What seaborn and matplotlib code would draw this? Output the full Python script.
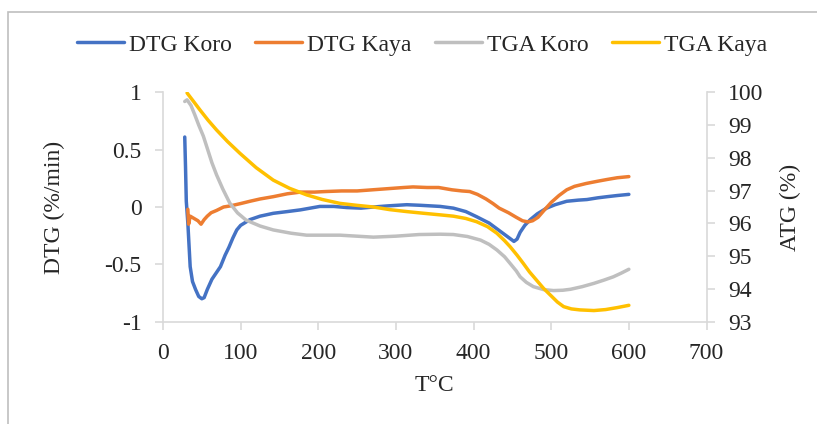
import matplotlib
matplotlib.use("Agg")
import matplotlib.pyplot as plt
import seaborn as sns
import pandas as pd
from matplotlib.patches import Rectangle

# ---------------- data ----------------
dtg_koro_T = [28, 29, 30, 32, 35, 38, 42, 46, 50, 53, 57, 63, 68, 74, 80, 85, 90, 95, 100,
              112, 125, 142, 160, 177, 202, 220, 237, 255, 271, 290, 314, 331, 357, 374,
              390, 404, 420, 430, 442, 452, 456, 460, 466, 473, 482, 494, 505, 520, 535,
              546, 560, 572, 585, 600]
dtg_koro = [0.61, 0.35, 0.05, -0.14, -0.52, -0.65, -0.72, -0.78, -0.80, -0.79, -0.72, -0.63,
            -0.58, -0.52, -0.42, -0.35, -0.27, -0.20, -0.16, -0.11, -0.08, -0.055, -0.04,
            -0.025, 0.005, 0.005, -0.005, -0.01, 0.0, 0.01, 0.02, 0.015, 0.005, -0.01,
            -0.04, -0.085, -0.14, -0.19, -0.25, -0.30, -0.28, -0.22, -0.16, -0.11, -0.06,
            -0.01, 0.02, 0.05, 0.06, 0.065, 0.08, 0.09, 0.10, 0.11]

dtg_kaya_T = [32, 33, 35, 40, 45, 49, 53, 57, 62, 69, 78, 87, 100, 112, 125, 142, 160, 177,
              195, 210, 230, 250, 270, 290, 310, 322, 340, 355, 372, 385, 395, 405, 416,
              425, 433, 445, 455, 463, 470, 476, 483, 492, 500, 510, 520, 530, 545, 560,
              572, 585, 600]
dtg_kaya = [-0.02, -0.15, -0.08, -0.10, -0.12, -0.15, -0.11, -0.08, -0.05, -0.03, 0.0, 0.01,
            0.03, 0.05, 0.07, 0.09, 0.115, 0.13, 0.13, 0.135, 0.14, 0.14, 0.15, 0.16, 0.17,
            0.175, 0.17, 0.17, 0.15, 0.14, 0.135, 0.11, 0.07, 0.03, -0.01, -0.05, -0.09,
            -0.12, -0.13, -0.12, -0.09, -0.02, 0.04, 0.10, 0.15, 0.18, 0.205, 0.225, 0.24,
            0.255, 0.265]

tga_koro_T = [28, 31, 36, 41, 46, 52, 58, 63, 69, 77, 86, 96, 107, 125, 142, 165, 185, 228,
              271, 300, 330, 357, 374, 392, 409, 420, 430, 440, 447, 455, 460, 468, 477,
              490, 503, 515, 525, 540, 555, 568, 580, 590, 600]
tga_koro = [99.72, 99.77, 99.60, 99.31, 99.00, 98.66, 98.22, 97.85, 97.48, 97.05, 96.62,
            96.32, 96.10, 95.92, 95.80, 95.70, 95.64, 95.64, 95.58, 95.61, 95.66, 95.67,
            95.66, 95.60, 95.49, 95.36, 95.19, 94.98, 94.78, 94.55, 94.37, 94.20, 94.07,
            93.98, 93.95, 93.96, 93.99, 94.07, 94.17, 94.27, 94.37, 94.48, 94.60]

tga_kaya_T = [31, 40, 48, 58, 69, 83, 99, 120, 142, 163, 185, 205, 228, 250, 271, 292, 314,
              335, 357, 374, 390, 404, 418, 430, 440, 447, 456, 464, 472, 481, 490, 499,
              508, 516, 526, 537, 555, 570, 585, 600]
tga_kaya = [99.98, 99.70, 99.45, 99.15, 98.85, 98.50, 98.14, 97.70, 97.32, 97.07, 96.87,
            96.73, 96.61, 96.55, 96.50, 96.42, 96.36, 96.31, 96.26, 96.22, 96.15, 96.05,
            95.90, 95.70, 95.47, 95.29, 95.03, 94.78, 94.52, 94.27, 94.02, 93.81, 93.60,
            93.46, 93.39, 93.36, 93.34, 93.37, 93.43, 93.50]

x_ticks = [0, 100, 200, 300, 400, 500, 600, 700]
left_ticks = [-1, -0.5, 0, 0.5, 1]
left_tick_labels = ["-1", "-0.5", "0", "0.5", "1"]
right_ticks = [93, 94, 95, 96, 97, 98, 99, 100]

labels = ["DTG Koro", "DTG Kaya", "TGA Koro", "TGA Kaya"]
colors = ["#4472C4", "#ED7D31", "#BFBFBF", "#FFC000"]

# ---------------- style ----------------
sns.set_theme(style="white")
plt.rcParams["font.family"] = ["Liberation Serif", "DejaVu Serif"]
FS = 17
GRID = "#D9D9D9"

fig = plt.figure(figsize=(8.17, 4.24), dpi=100)
ax = fig.add_axes([163 / 817, 1 - 321.7 / 424, (706.5 - 163) / 817, (321.7 - 92.3) / 424])
ax2 = ax.twinx()

lw = 2.5
sns.lineplot(data=pd.DataFrame({"T": dtg_koro_T, "v": dtg_koro}), x="T", y="v", ax=ax,
             color=colors[0], lw=lw, label=labels[0], legend=False)
sns.lineplot(data=pd.DataFrame({"T": dtg_kaya_T, "v": dtg_kaya}), x="T", y="v", ax=ax,
             color=colors[1], lw=lw, label=labels[1], legend=False)
sns.lineplot(data=pd.DataFrame({"T": tga_koro_T, "v": tga_koro}), x="T", y="v", ax=ax2,
             color=colors[2], lw=lw, label=labels[2], legend=False)
sns.lineplot(data=pd.DataFrame({"T": tga_kaya_T, "v": tga_kaya}), x="T", y="v", ax=ax2,
             color=colors[3], lw=lw, label=labels[3], legend=False)

ax.set_xlim(0, 700)
ax.set_ylim(-1, 1)
ax2.set_ylim(93, 100)
ax.set_xticks(x_ticks)
ax.set_xticklabels([str(t) for t in x_ticks])
ax.set_yticks(left_ticks)
ax.set_yticklabels(left_tick_labels)
ax2.set_yticks(right_ticks)
ax2.set_yticklabels([str(t) for t in right_ticks])

for a in (ax, ax2):
    a.spines["top"].set_visible(False)
    for s in ["left", "right", "bottom"]:
        a.spines[s].set_color(GRID)
        a.spines[s].set_linewidth(1.2)
ax.spines["right"].set_visible(False)
ax2.spines["left"].set_visible(False)
ax2.spines["bottom"].set_visible(False)

ax.tick_params(axis="x", direction="out", length=5.5, width=1.2, color=GRID,
               labelsize=FS, pad=10, bottom=True)
ax.tick_params(axis="y", direction="out", length=5.5, width=1.2, color=GRID,
               labelsize=FS, pad=10, left=True)
ax2.tick_params(axis="y", direction="out", length=5.5, width=1.2, color=GRID,
                labelsize=FS, pad=10, right=True)

ax.set_xlabel("T°C", fontsize=FS, va="center")
ax.xaxis.set_label_coords(0.5, -0.276)
ax.set_ylabel("DTG (%/min)", fontsize=FS, va="center")
ax.yaxis.set_label_coords(-0.2, 0.5)
ax2.set_ylabel("ATG (%)", fontsize=FS, va="center")
ax2.yaxis.set_label_coords(1.155, 0.5)

handles = ax.get_lines() + ax2.get_lines()
fig.legend(handles, labels, loc="center", bbox_to_anchor=(422 / 817, 1 - 45 / 424),
           ncol=4, frameon=False, fontsize=FS, handlelength=2.0, handletextpad=0.2,
           columnspacing=1.0)

# outer chart border
fig.patches.append(Rectangle((8 / 817, -0.1), 1.2, 1 - 12 / 424 + 0.1,
                             transform=fig.transFigure, fill=False,
                             edgecolor="#BFBFBF", lw=1.2))

fig.savefig("out.png", dpi=100)
